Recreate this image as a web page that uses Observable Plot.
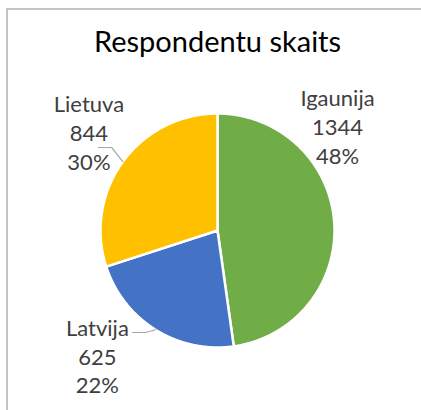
<!DOCTYPE html>
<html><head><meta charset="utf-8">
<script src="https://cdn.jsdelivr.net/npm/d3@7"></script>
<script src="https://cdn.jsdelivr.net/npm/@observablehq/plot@0.6"></script>
<style>
html,body{margin:0;padding:0;background:#fff;}
#wrap{position:relative;width:421px;height:410px;overflow:hidden;}
#border{position:absolute;left:6px;top:8px;right:-10px;bottom:-10px;border-top:2px solid #c4c4c4;border-left:2px solid #c4c4c4;pointer-events:none;}
svg{display:block}
</style></head><body><div id="wrap"><div id="border"></div></div>
<script>
// ---- data ----
const title = "Respondentu skaits";
const countries = ["Igaunija", "Latvija", "Lietuva"];
const counts = [1344, 625, 844];
const colors = ["#70AD47", "#4472C4", "#FFC000"];

// ---- label layout (polar: degrees clockwise from top, radius in pie radii) ----
const labelAngle = [48.9, 223.8, 307.5];
const labelRadius = [1.361, 1.483, 1.385];
// leader lines: elbow (polar) and end x (pie radii); null = no leader
const leaderElbowAngle = [null, 215.2, 308.1];
const leaderElbowRadius = [null, 1.067, 1.150];
const leaderEndX = [null, -0.726, -1.017];

const total = d3.sum(counts);
const fmtPct = d3.format(".0%");
const data = countries.map((name, i) => ({name, count: counts[i], pct: fmtPct(counts[i] / total), i}));
const arcs = d3.pie().sort(null).value(d => d.count)(data);

const rad = Math.PI / 180;
const polar = (a, r) => ({x: r * Math.sin(a), y: r * Math.cos(a)});

// slice outlines built from the pie angles
const slicePts = [];
for (const a of arcs) {
  slicePts.push({name: a.data.name, x: 0, y: 0});
  const n = Math.max(2, Math.ceil((a.endAngle - a.startAngle) / (0.5 * rad)));
  for (let k = 0; k <= n; k++) {
    const t = a.startAngle + (a.endAngle - a.startAngle) * k / n;
    slicePts.push({name: a.data.name, ...polar(t, 1)});
  }
  slicePts.push({name: a.data.name, x: 0, y: 0});
}

const labels = data.map((d, i) => ({...d, ...polar(labelAngle[i] * rad, labelRadius[i])}));

const leaderPts = [];
arcs.forEach((a, i) => {
  if (leaderElbowAngle[i] == null) return;
  const mid = (a.startAngle + a.endAngle) / 2;
  const e = polar(mid, 1);
  const b = polar(leaderElbowAngle[i] * rad, leaderElbowRadius[i]);
  leaderPts.push({k: i, ...e}, {k: i, ...b}, {k: i, x: leaderEndX[i], y: b.y});
});

const font = "Lato, 'Open Sans', sans-serif";
const chart = Plot.plot({
  width: 421,
  height: 410,
  margin: 0,
  x: {domain: [-1, 1], range: [100, 334], axis: null},
  y: {domain: [-1, 1], range: [347, 113], axis: null},
  color: {domain: countries, range: colors},
  style: {background: "transparent"},
  marks: [
    Plot.line(slicePts, {x: "x", y: "y", z: "name", fill: "name", stroke: "white", strokeWidth: 2.5, strokeLinejoin: "round"}),
    Plot.line(leaderPts, {x: "x", y: "y", z: "k", stroke: "#a6a6a6", strokeWidth: 1.2}),
    Plot.text(labels, {x: "x", y: "y", text: d => `${d.name}\n${d.count}\n${d.pct}`, fontSize: 22, fontFamily: font, fill: "#404040", lineHeight: 1.3, textAnchor: "middle", lineAnchor: "middle"}),
    Plot.text([title], {x: () => 0, frameAnchor: "top", dy: 30.5, lineAnchor: "top", fontSize: 29, fontFamily: font, fill: "#000000"})
  ]
});
document.getElementById("wrap").prepend(chart);
</script></body></html>
